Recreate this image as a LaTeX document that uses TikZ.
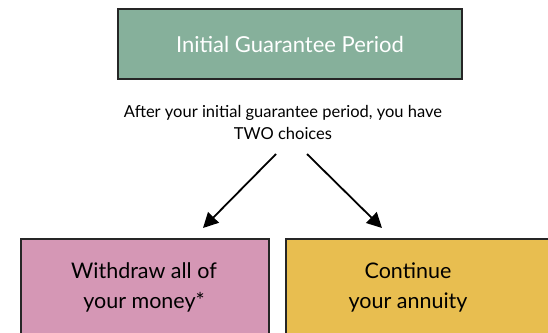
\documentclass[tikz,border=0pt]{standalone}
\usepackage{fontspec}
\setmainfont{Lato}
\usetikzlibrary{arrows.meta}
\definecolor{boxgreen}{HTML}{86B09B}
\definecolor{boxpink}{HTML}{D597B5}
\definecolor{boxyellow}{HTML}{E8BE50}
\tikzset{
  box/.style={draw=black!85, line width=1.6pt, inner sep=0pt},
  arr/.style={line width=1.8pt, -{Triangle[length=15pt,width=15pt]}},
  bigtext/.style={align=center, font=\fontsize{21.5}{30}\selectfont},
}
\begin{document}
\begin{tikzpicture}[x=1pt,y=-1pt]
\useasboundingbox (0,0) rectangle (548,332);
\clip (0,0) rectangle (548,332);
\node[box, fill=boxgreen, minimum width=344pt, minimum height=70pt, text=white, font=\fontsize{22}{26}\selectfont] (top) at (290,44) {Initial Guarantee Period};
\node[align=center, font=\fontsize{16.5}{22}\selectfont] (cap) at (283,122) {After your initial guarantee period, you have\\TWO choices};
\node[box, fill=boxpink, minimum width=248pt, minimum height=100pt, anchor=north west] (withdraw) at (20,238) {};
\node[bigtext] (withdrawtext) at (144,287) {Withdraw all of\\your money*};
\node[box, fill=boxyellow, minimum width=290pt, minimum height=100pt, anchor=north west] (cont) at (285,238) {};
\node[bigtext] (conttext) at (408,287) {Continue\\your annuity};
\coordinate (ls) at (276,154);
\coordinate (le) at (203,228);
\coordinate (rs) at (307,154);
\coordinate (re) at (382,228);
\draw[arr] (ls) -- (le);
\draw[arr] (rs) -- (re);
\end{tikzpicture}
\end{document}
